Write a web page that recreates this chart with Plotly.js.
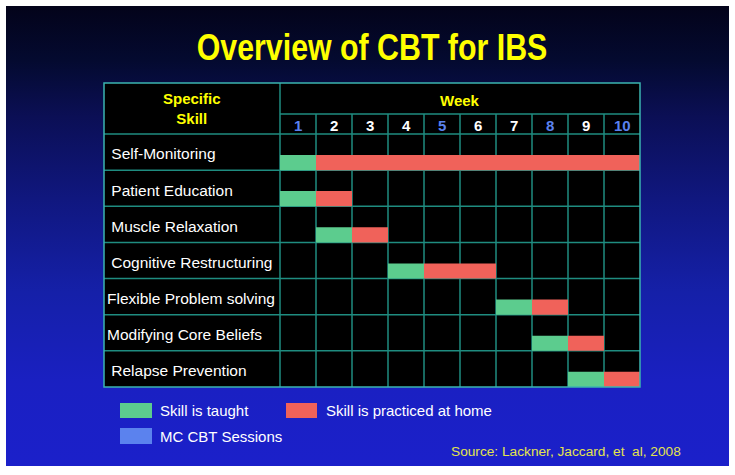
<!DOCTYPE html>
<html>
<head>
<meta charset="utf-8">
<script src="https://cdn.plot.ly/plotly-3.0.1.min.js"></script>
<style>
  html, body { margin: 0; padding: 0; background: #ffffff; }
  #slide { position: absolute; left: 6px; top: 6px; width: 723px; height: 460px;
    background: linear-gradient(to bottom, #03031a 0%, #040a30 12%, #0b0f55 24%, #10177f 42%, #1520a8 62%, #1a20c2 82%, #1b20ca 100%); }
  #chart { position: absolute; left: 0; top: 0; width: 735px; height: 475px; }
</style>
</head>
<body>
<div id="slide"></div>
<div id="chart"></div>
<script>
// ---- data ----
var skills = ["\u00a0Self-Monitoring", "\u00a0Patient Education", "\u00a0Muscle Relaxation",
              "\u00a0Cognitive Restructuring", "Flexible Problem solving",
              "Modifying Core Beliefs", "\u00a0Relapse Prevention"];
var taughtWeek    = [1, 1, 2, 4, 7, 8, 9];
var practiceStart = [2, 2, 3, 5, 8, 9, 10];
var practiceEnd   = [10, 2, 3, 6, 8, 9, 10];
var weeks = [1, 2, 3, 4, 5, 6, 7, 8, 9, 10];
var sessionWeeks = [1, 5, 8, 10];
var legendLabels = ["Skill is taught", "Skill is practiced at home", "MC CBT Sessions"];
var sourceText = "Source: Lackner, Jaccard, et \u00a0al, 2008";

// ---- styles ----
var GREEN = "#5ccc8e", RED = "#f0625a", BLUE = "#5b82ee", YELLOW = "#ffff00";
var GRID = "#1f8c80", BORDER = "#3bb4b0";
var FONT = "Liberation Sans, Arial, sans-serif";

// layout geometry (pixels)
var W = 735, H = 475, L = 104, R = 640, T = 83, B = 387;
var rowPx = (B - 134) / skills.length;
var headerUnits = (134 - T) / rowPx;
var labelColUnits = (280 - L) / ((R - 280) / weeks.length);
function pyToY(p) { return (p - 134) / rowPx; }
function pxToPaper(px) { return (px - L) / (R - L); }
function pyToPaper(py) { return (B - py) / (B - T); }

var rows = skills.map(function (s, i) { return i; });
var barY = rows.map(function (i) { return i + 0.79; });

var traces = [
  { type: "bar", orientation: "h", name: legendLabels[0],
    y: barY, base: taughtWeek.map(function (w) { return w - 1; }),
    x: taughtWeek.map(function () { return 1; }),
    width: 0.42, marker: { color: GREEN, line: { width: 0 } }, hoverinfo: "skip" },
  { type: "bar", orientation: "h", name: legendLabels[1],
    y: barY, base: practiceStart.map(function (w) { return w - 1; }),
    x: practiceStart.map(function (s, i) { return practiceEnd[i] - s + 1; }),
    width: 0.42, marker: { color: RED, line: { width: 0 } }, hoverinfo: "skip" }
];

var shapes = [];
var nRows = skills.length;
for (var k = 1; k < weeks.length; k++) {
  shapes.push({ type: "line", xref: "x", yref: "y", x0: k, x1: k, y0: pyToY(114), y1: nRows,
    line: { color: GRID, width: 1.5 }, layer: "below" });
}
shapes.push({ type: "line", xref: "x", yref: "y", x0: 0, x1: 0, y0: -headerUnits, y1: nRows,
  line: { color: GRID, width: 1.5 }, layer: "below" });
shapes.push({ type: "line", xref: "x", yref: "y", x0: 0, x1: weeks.length, y0: pyToY(114), y1: pyToY(114),
  line: { color: GRID, width: 1.5 }, layer: "below" });
for (var r = 0; r < nRows; r++) {
  shapes.push({ type: "line", xref: "x", yref: "y", x0: -labelColUnits, x1: weeks.length, y0: r, y1: r,
    line: { color: GRID, width: 1.5 }, layer: "below" });
}
shapes.push({ type: "rect", xref: "paper", yref: "paper", x0: 0, x1: 1, y0: 0, y1: 1,
  line: { color: BORDER, width: 1.5 }, layer: "above" });

var legendColors = [GREEN, RED, BLUE];
var legendBoxes = [[120, 152, 403, 418], [286, 317, 403, 418], [120, 152, 428, 444]];
var legendTextX = [158, 324, 158];
var legendTextY = [410.5, 410.5, 436];
var annotations = [];
legendBoxes.forEach(function (b, i) {
  shapes.push({ type: "rect", xref: "paper", yref: "paper",
    x0: pxToPaper(b[0]), x1: pxToPaper(b[1]), y0: pyToPaper(b[3]), y1: pyToPaper(b[2]),
    fillcolor: legendColors[i], line: { width: 0 } });
  annotations.push({ xref: "paper", yref: "paper", x: pxToPaper(legendTextX[i]), y: pyToPaper(legendTextY[i]),
    xanchor: "left", yanchor: "middle", showarrow: false, text: legendLabels[i],
    font: { family: FONT, size: 15, color: "#ffffff" } });
});
annotations.push({ xref: "paper", yref: "paper", x: pxToPaper(683), y: pyToPaper(451),
  xanchor: "right", yanchor: "middle", showarrow: false, text: sourceText,
  font: { family: FONT, size: 13.7, color: "#e4e44c" } });

annotations.push({ xref: "x", yref: "y", x: -labelColUnits / 2, y: pyToY(108), showarrow: false,
  text: "<b>Specific</b><br><b>Skill</b>", align: "center", xanchor: "center", yanchor: "middle",
  font: { family: FONT, size: 15, color: YELLOW } });
annotations.push({ xref: "x", yref: "y", x: weeks.length / 2, y: pyToY(100), showarrow: false,
  text: "<b>Week</b>", xanchor: "center", yanchor: "middle",
  font: { family: FONT, size: 15, color: YELLOW } });
weeks.forEach(function (w) {
  annotations.push({ xref: "x", yref: "y", x: w - 0.5, y: pyToY(125.5), showarrow: false,
    text: "<b>" + w + "</b>", xanchor: "center", yanchor: "middle",
    font: { family: FONT, size: 15, color: sessionWeeks.indexOf(w) >= 0 ? BLUE : "#ffffff" } });
});
skills.forEach(function (s, i) {
  annotations.push({ xref: "x", yref: "y", x: -labelColUnits, xshift: 1, y: i + 0.55, showarrow: false,
    text: s, xanchor: "left", yanchor: "middle",
    font: { family: FONT, size: 15.5, color: "#ffffff" } });
});

var layout = {
  width: W, height: H,
  margin: { l: L, r: W - R, t: T, b: H - B, pad: 0 },
  paper_bgcolor: "rgba(0,0,0,0)", plot_bgcolor: "#000000",
  title: { text: "<b>Overview of CBT for IBS</b>", x: 0.5, xref: "paper", y: 1 - 47 / H, yref: "container",
    xanchor: "center", yanchor: "middle",
    font: { family: FONT, size: 37, color: YELLOW } },
  showlegend: false,
  barmode: "overlay",
  xaxis: { range: [-labelColUnits, weeks.length], showgrid: false, zeroline: false, showticklabels: false,
    ticks: "", showline: false, fixedrange: true },
  yaxis: { range: [nRows, -headerUnits], showgrid: false, zeroline: false, showticklabels: false,
    ticks: "", showline: false, fixedrange: true },
  shapes: shapes, annotations: annotations
};

Plotly.newPlot("chart", traces, layout, { displayModeBar: false, staticPlot: true }).then(function (gd) {
  // condensed look of the slide title (horizontal squeeze of real text)
  var t = gd.querySelector(".gtitle");
  if (t) {
    var cx = parseFloat(t.getAttribute("x")) || (W / 2);
    t.setAttribute("transform", "translate(" + cx + ",0) scale(0.82,1) translate(" + (-cx) + ",0)");
  }
});
</script>
</body>
</html>
